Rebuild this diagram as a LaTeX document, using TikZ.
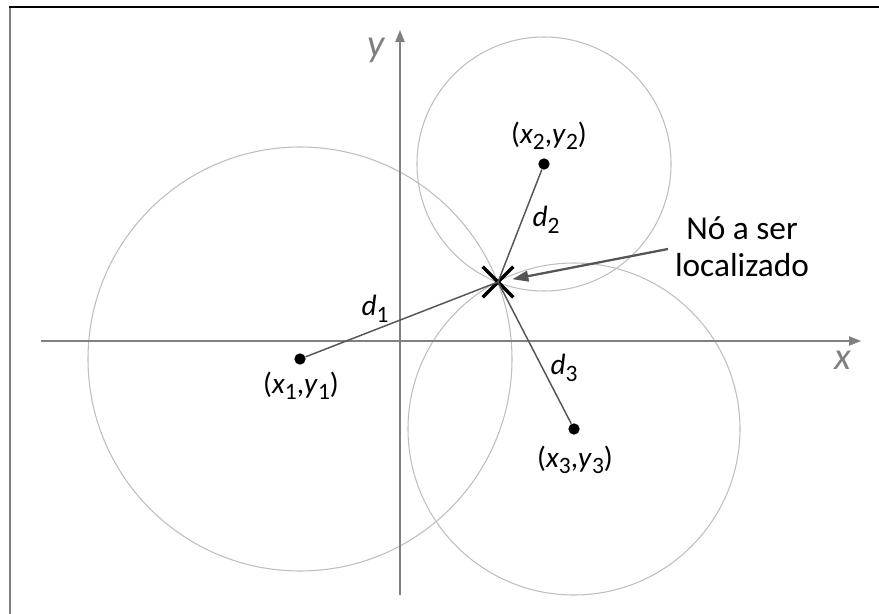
\documentclass[tikz,border=0pt]{standalone}
\usepackage{fontspec}
\setmainfont{Carlito}
\usetikzlibrary{arrows.meta,shapes.misc}
\newcommand\lsb[1]{\raisebox{-0.22em}{\scalebox{0.8}{#1}}}
\definecolor{axisgray}{RGB}{128,128,128}
\definecolor{circgray}{RGB}{190,190,190}
\definecolor{linegray}{RGB}{85,85,85}
\begin{document}
\begin{tikzpicture}[x=0.75pt,y=-0.75pt,
  axis/.style={draw=axisgray,line width=0.9pt,-{Triangle[length=9pt,width=7pt]}},
  circ/.style={draw=circgray,line width=0.8pt},
  dline/.style={draw=linegray,line width=1.1pt},
  dot/.style={circle,fill=black,inner sep=0pt,minimum size=8.5pt},
  lbl/.style={font=\fontsize{22}{24}\selectfont},
  axlbl/.style={text=axisgray,font=\fontsize{29}{30}\selectfont\itshape},
  xmark/.style={cross out,draw=black,line width=2.5pt,inner sep=0pt,minimum size=20.5pt}]
\useasboundingbox (0,0) rectangle (879,614);
% frame
\draw[draw=axisgray,line width=2pt] (10,7) -- (10,614);
\draw[draw=black,line width=2pt] (9,7) -- (879,7);
% circles
\draw[circ] (300,359) circle (212);
\draw[circ] (544,164) circle (127);
\draw[circ] (574,429) circle (166);
% axes
\coordinate (xs) at (41,341);
\coordinate (xe) at (861,341);
\coordinate (ys) at (400,595);
\coordinate (ye) at (400,30);
\draw[axis] (xs) -- (xe);
\draw[axis] (ys) -- (ye);
\node[axlbl] (ylab) at (376,50) {y};
\node[axlbl] (xlab) at (843,360) {x};
% points
\node[dot] (c1) at (300,359) {};
\node[dot] (c2) at (544,164) {};
\node[dot] (c3) at (574,429) {};
\node[xmark] (p) at (498,282) {};
\draw[dline] (c1) -- (p.center);
\draw[dline] (c2) -- (p.center);
\draw[dline] (c3) -- (p.center);
% labels
\node[lbl] (l1) at (301,386) {(\textit{x}\lsb{1},\textit{y}\lsb{1})};
\node[lbl] (l2) at (549,136) {(\textit{x}\lsb{2},\textit{y}\lsb{2})};
\node[lbl] (l3) at (575,460) {(\textit{x}\lsb{3},\textit{y}\lsb{3})};
\node[lbl] (d1) at (375,309) {\textit{d}\lsb{1}};
\node[lbl] (d2) at (546,220) {\textit{d}\lsb{2}};
\node[lbl] (d3) at (564,368) {\textit{d}\lsb{3}};
% annotation
\node[align=center,font=\fontsize{25}{28}\selectfont] (note) at (742,247) {Nó a ser\\localizado};
\coordinate (as) at (668,249);
\draw[draw=linegray,line width=1.7pt,-{Triangle[length=12pt,width=8pt]},shorten >=11pt] (as) -- (p.center);
\end{tikzpicture}
\end{document}
